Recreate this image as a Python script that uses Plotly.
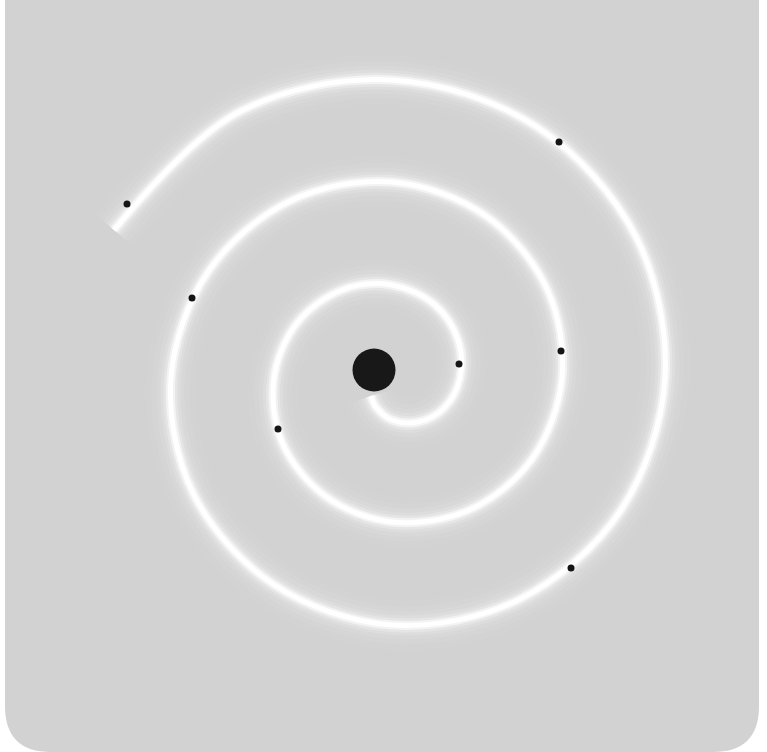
import plotly.graph_objects as go

# ==================== DATA (pixel space) ====================

# Spiral path, one point every 30 degrees, inner end to outer end
spiral_x = [371, 376, 392, 418, 444, 460, 458, 435, 392, 342, 297, 274,
            282, 325, 392, 469, 532, 562, 547, 486, 392, 290, 208, 171,
            193, 273, 392, 520, 621, 665, 636, 537, 392, 239, 114]
spiral_y = [396, 407, 420, 422, 408, 378, 340, 305, 285, 290, 323, 378,
            442, 496, 522, 510, 459, 378, 289, 216, 182, 201, 272, 378,
            493, 584, 625, 599, 510, 378, 237, 127, 80, 112, 230]

# Small beads sitting on the spiral
dot_x = [127, 559, 192, 561, 459, 278, 571]
dot_y = [204, 142, 298, 351, 364, 429, 568]

# Central hub
hub_x = [374]
hub_y = [370]

W, H = 767, 752
CARD_BG = '#d2d2d2'

# ==================== FIGURE ====================

fig = go.Figure()

# glow: widest / faintest first, bright core last
glow = [(50, 0.03), (38, 0.05), (28, 0.08), (20, 0.13), (14, 0.25),
        (9, 0.55), (5, 0.95), (3.5, 1.0)]
for width, alpha in glow:
  fig.add_trace(go.Scatter(
    x=spiral_x, y=spiral_y,
    mode='lines',
    line=dict(color=f'rgba(255,255,255,{alpha})', width=width,
              shape='spline', smoothing=1.0),
    hoverinfo='skip',
    showlegend=False,
  ))

fig.add_trace(go.Scatter(
  x=dot_x, y=dot_y,
  mode='markers',
  marker=dict(size=7, color='#151515', line=dict(width=0)),
  showlegend=False,
))

fig.add_trace(go.Scatter(
  x=hub_x, y=hub_y,
  mode='markers',
  marker=dict(size=43, color='#181818', line=dict(width=0)),
  showlegend=False,
))

# card with rounded bottom corners
L, R, T, B, rad = 5, 759, -5, H, 46
card_path = (f'M {L},{T} L {R},{T} L {R},{B - rad} Q {R},{B} {R - rad},{B} '
             f'L {L + rad},{B} Q {L},{B} {L},{B - rad} Z')

fig.update_layout(
  width=W, height=H,
  margin=dict(l=0, r=0, t=0, b=0),
  paper_bgcolor='white',
  plot_bgcolor='white',
  xaxis=dict(range=[0, W], visible=False, fixedrange=True),
  yaxis=dict(range=[H, 0], visible=False, fixedrange=True),
  shapes=[dict(type='path', path=card_path, xref='x', yref='y',
               fillcolor=CARD_BG, line=dict(width=0), layer='below')],
  showlegend=False,
)

# drop the default 8px body margin so the figure sits flush with the window
fig.write_html('out.html', config={'displayModeBar': False},
               post_script="document.body.style.margin='0';")
